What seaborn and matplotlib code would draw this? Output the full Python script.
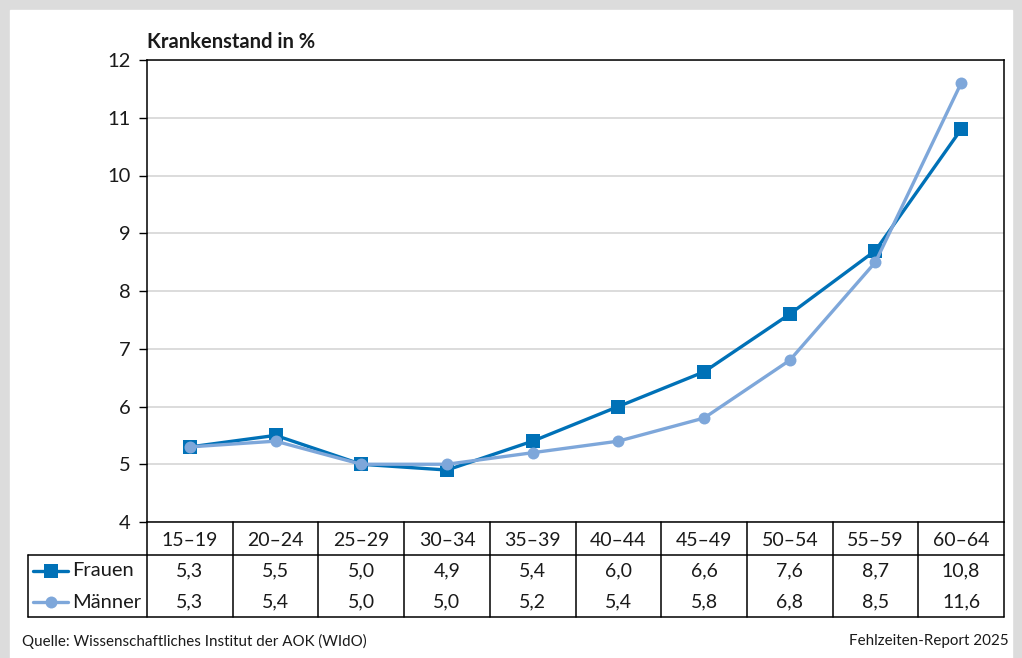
import numpy as np
import pandas as pd
import matplotlib
matplotlib.use("Agg")
import matplotlib.pyplot as plt
from matplotlib.patches import Rectangle
import seaborn as sns

# data
altersgruppen = ["15–19", "20–24", "25–29", "30–34", "35–39",
                 "40–44", "45–49", "50–54", "55–59", "60–64"]
frauen = [5.3, 5.5, 5.0, 4.9, 5.4, 6.0, 6.6, 7.6, 8.7, 10.8]
maenner = [5.3, 5.4, 5.0, 5.0, 5.2, 5.4, 5.8, 6.8, 8.5, 11.6]
serien = ["Frauen", "Männer"]
yticks = [4, 5, 6, 7, 8, 9, 10, 11, 12]

df = pd.DataFrame({
    "Alter": altersgruppen * 2,
    "Krankenstand": frauen + maenner,
    "Geschlecht": ["Frauen"] * len(frauen) + ["Männer"] * len(maenner),
})

sns.set_theme(style="white")
plt.rcParams["font.family"] = ["Lato", "DejaVu Sans"]

farben = {"Frauen": "#0071b7", "Männer": "#7ea7da"}
marker = {"Frauen": "s", "Männer": "o"}
msize = {"Frauen": 9.4, "Männer": 8.6}
fs = 14

W, H = 1022, 658
fig = plt.figure(figsize=(W / 100, H / 100), dpi=100)
fig.set_facecolor("#dcdcdc")
fig.patches.append(Rectangle((10 / W, 0), 1002 / W, 1 - 10 / H,
                             transform=fig.transFigure, color="white", zorder=-10))


def box(l, t, r, b):
    return [l / W, 1 - b / H, (r - l) / W, (b - t) / H]


# main chart
ax = fig.add_axes(box(147, 60, 1004, 522))
sns.lineplot(data=df, x="Alter", y="Krankenstand", hue="Geschlecht",
             style="Geschlecht", markers=marker, dashes=False, palette=farben,
             hue_order=serien, linewidth=2.4, markersize=9, markeredgewidth=0,
             legend=False, sort=False, ax=ax)
for line, s in zip(ax.lines, serien):
    line.set_markersize(msize[s])
ax.set_xlim(-0.5, len(altersgruppen) - 0.5)
ax.set_ylim(4, 12)
ax.set_yticks(yticks)
ax.set_yticklabels([str(t) for t in yticks], fontsize=14.5, color="#1a1a1a")
ax.set_xticks([])
ax.set_xlabel("")
ax.set_ylabel("")
ax.tick_params(axis="y", direction="out", length=6, width=1, color="black", pad=6, left=True)
ax.yaxis.grid(True, color="#d9d9d9", linewidth=1.3)
ax.set_axisbelow(True)
for sp in ax.spines.values():
    sp.set_visible(True)
    sp.set_color("black")
    sp.set_linewidth(1.1)
ax.text(0, 1.018, "Krankenstand in %", transform=ax.transAxes, fontsize=14.5,
        fontweight="bold", ha="left", va="bottom", color="#1a1a1a")

# table below the chart
colw = (1004 - 147) / len(altersgruppen)
links = -0.5 - (147 - 28) / colw
tab = fig.add_axes(box(28, 522, 1004, 617))
tab.set_xlim(links, len(altersgruppen) - 0.5)
tab.set_ylim(95, 0)
tab.axis("off")
lw = 1.1
n = len(altersgruppen)
for k in range(n + 1):
    tab.plot([k - 0.5, k - 0.5], [0, 95], color="black", lw=lw, clip_on=False)
tab.plot([links, links], [33, 95], color="black", lw=lw, clip_on=False)
tab.plot([links, n - 0.5], [33, 33], color="black", lw=lw, clip_on=False)
tab.plot([links, n - 0.5], [95, 95], color="black", lw=lw, clip_on=False)

for i, a in enumerate(altersgruppen):
    tab.text(i, 18, a, ha="center", va="center", fontsize=fs, color="#1a1a1a")
for werte, y in [(frauen, 49), (maenner, 80)]:
    for i, v in enumerate(werte):
        tab.text(i, y, f"{v:.1f}".replace(".", ","), ha="center", va="center",
                 fontsize=fs, color="#1a1a1a")

# legend cells
for s, y in zip(serien, [49, 80]):
    x0 = links + 5 / colw
    x1 = links + 40 / colw
    tab.plot([x0, x1], [y, y], color=farben[s], lw=2.4, clip_on=False)
    tab.plot([(x0 + x1) / 2], [y], marker=marker[s], color=farben[s],
             markersize=msize[s], markeredgewidth=0, clip_on=False)
    tab.text(links + 44 / colw, y, s, ha="left", va="center", fontsize=14.5, color="#1a1a1a")

fig.text(22 / W, 1 - 641 / H, "Quelle: Wissenschaftliches Institut der AOK (WIdO)",
         fontsize=10.9, ha="left", va="center", color="#1a1a1a")
fig.text(1009 / W, 1 - 641 / H, "Fehlzeiten-Report 2025",
         fontsize=10.9, ha="right", va="center", color="#1a1a1a")

fig.savefig("out.png", dpi=100, facecolor=fig.get_facecolor())
